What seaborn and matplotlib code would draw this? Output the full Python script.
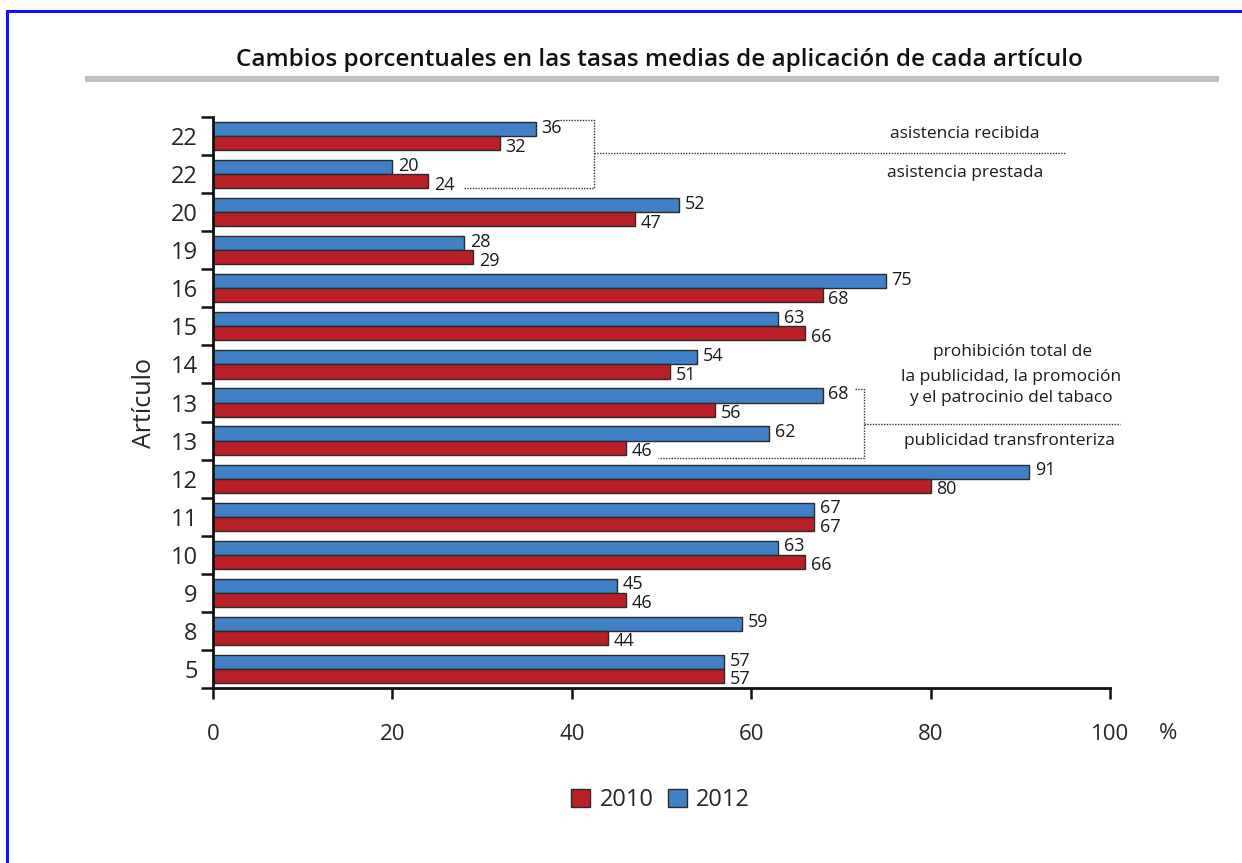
import matplotlib
matplotlib.use("Agg")
import matplotlib.pyplot as plt
from matplotlib.lines import Line2D
from matplotlib.patches import Patch
import seaborn as sns
import pandas as pd

# Article groups, top to bottom (two rows each for articles 22 and 13)
articles = ["22", "22", "20", "19", "16", "15", "14", "13", "13", "12", "11", "10", "9", "8", "5"]
values_2012 = [36, 20, 52, 28, 75, 63, 54, 68, 62, 91, 67, 63, 45, 59, 57]
values_2010 = [32, 24, 47, 29, 68, 66, 51, 56, 46, 80, 67, 66, 46, 44, 57]
years = ["2012", "2010"]
x_ticks = [0, 20, 40, 60, 80, 100]

title = "Cambios porcentuales en las tasas medias de aplicación de cada artículo"
colors = {"2010": "#B81F26", "2012": "#3F80C6"}

sns.set_theme(style="white")
plt.rcParams["font.family"] = ["Open Sans", "DejaVu Sans"]

row_ids = [f"r{i}" for i in range(len(articles))]
df = pd.DataFrame({
    "row": row_ids * 2,
    "year": ["2012"] * len(articles) + ["2010"] * len(articles),
    "value": values_2012 + values_2010,
})

fig = plt.figure(figsize=(12.42, 8.63), dpi=100)
ax = fig.add_axes([0.1715, 0.2028, 0.7222, 0.6616])

sns.barplot(data=df, y="row", x="value", hue="year", order=row_ids,
            hue_order=years, palette=colors, orient="h", width=0.74, saturation=1,
            edgecolor="#2a2a2a", linewidth=1.0, legend=False, ax=ax)

# value labels next to each bar end
for cont, yr in zip(ax.containers, years):
    vals = values_2012 if yr == "2012" else values_2010
    dy = 1 if yr == "2012" else -2.5
    for patch, v in zip(cont.patches, vals):
        ax.annotate(f"{v}", (patch.get_width(), patch.get_y() + patch.get_height() / 2),
                    xytext=(4, dy), textcoords="offset points", va="center", ha="left",
                    fontsize=13, color="#1a1a1a")

ax.set_xlim(0, 100)
ax.set_ylim(len(articles) - 0.5, -0.5)
ax.set_xticks(x_ticks)
ax.set_xticklabels([str(t) for t in x_ticks], fontsize=16)
ax.set_yticks(range(len(articles)))
ax.set_yticklabels(articles, fontsize=17)
ax.set_yticks([i - 0.5 for i in range(len(articles) + 1)], minor=True)
ax.tick_params(axis="y", which="major", left=False, length=0, pad=11)
ax.tick_params(axis="y", which="minor", left=True, length=9, width=1.8,
               direction="out", color="#111")
ax.tick_params(axis="x", which="major", bottom=True, length=8, width=1.8,
               direction="out", pad=18, color="#111")
ax.set_xlabel("")
ax.set_ylabel("Artículo", fontsize=18, labelpad=10)
for s in ["top", "right"]:
    ax.spines[s].set_visible(False)
for s in ["left", "bottom"]:
    ax.spines[s].set_linewidth(2)
    ax.spines[s].set_color("#111")

ax.annotate("%", xy=(1.0, 0), xycoords="axes fraction", xytext=(42, -33),
            textcoords="offset points", ha="center", va="center", fontsize=16)

# dotted brackets grouping the paired article rows
dot = dict(color="#333", lw=1.0, ls=(0, (1, 1)), clip_on=False)
ax.plot([38.7, 42.5, 42.5, 27.9], [-0.42, -0.42, 1.37, 1.37], **dot)
ax.plot([42.5, 95.0], [0.45, 0.45], **dot)
ax.plot([71.6, 72.6, 72.6, 49.6], [6.64, 6.64, 8.46, 8.46], **dot)
ax.plot([72.6, 101.1], [7.56, 7.56], **dot)

note = dict(ha="center", va="center", fontsize=12.5, color="#1a1a1a", clip_on=False)
ax.text(83.8, -0.05, "asistencia recibida", **note)
ax.text(83.8, 0.96, "asistencia prestada", **note)
ax.text(89.1, 5.67, "prohibición total de", **note)
ax.text(89.0, 6.33, "la publicidad, la promoción", **note)
ax.text(89.0, 6.88, "y el patrocinio del tabaco", **note)
ax.text(88.8, 8.01, "publicidad transfronteriza", **note)

# title with grey rule beneath
fig.text(0.531, 0.931, title, ha="center", va="center", fontsize=17.5,
         fontweight="semibold", color="#111")
fig.add_artist(Line2D([85 / 1242, 1219 / 1242], [1 - 79 / 863, 1 - 79 / 863],
                      color="#c0c0c0", lw=4.5, solid_capstyle="butt"))

# frame lines on the left and top
fig.add_artist(Line2D([7 / 1242, 7 / 1242], [0, 1 - 11 / 863], color="#1010ff", lw=2.2))
fig.add_artist(Line2D([7 / 1242, 1], [1 - 11 / 863, 1 - 11 / 863], color="#1010ff", lw=2.2))

handles = [Patch(facecolor=colors["2010"], edgecolor="#2a2a2a", label="2010"),
           Patch(facecolor=colors["2012"], edgecolor="#2a2a2a", label="2012")]
fig.legend(handles=handles, loc="center", bbox_to_anchor=(0.532, 0.073), ncol=2,
           frameon=False, fontsize=17, handlelength=0.8, handleheight=0.8,
           handletextpad=0.4, columnspacing=0.6)

fig.savefig("out.png", dpi=100)
